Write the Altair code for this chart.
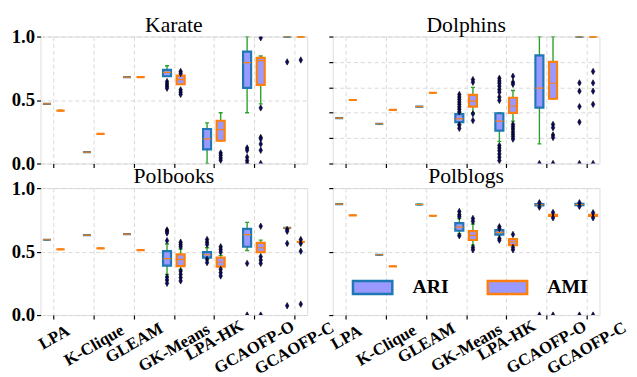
import altair as alt
import pandas as pd

METHODS = ["LPA", "K-Clique", "GLEAM", "GK-Means", "LPA-HK", "GCAOFP-O", "GCAOFP-C"]
METRICS = ["ARI", "AMI"]
DATASETS = ["Karate", "Dolphins", "Polbooks", "Polblogs"]

# box statistics per method: (whisker_low, q1, median, q3, whisker_high)
KARATE_ARI = [(0.47, 0.47, 0.47, 0.47, 0.47), (0.09, 0.09, 0.09, 0.09, 0.09),
              (0.68, 0.68, 0.68, 0.68, 0.68), (0.687, 0.687, 0.718, 0.738, 0.77),
              (0.0, 0.111, 0.194, 0.272, 0.32), (0.40, 0.596, 0.795, 0.881, 1.0),
              (1.0, 1.0, 1.0, 1.0, 1.0)]
KARATE_AMI = [(0.417, 0.417, 0.417, 0.417, 0.417), (0.233, 0.233, 0.233, 0.233, 0.233),
              (0.68, 0.68, 0.68, 0.68, 0.68), (0.624, 0.624, 0.66, 0.692, 0.692),
              (0.179, 0.179, 0.267, 0.337, 0.40), (0.47, 0.619, 0.81, 0.832, 0.847),
              (1.0, 1.0, 1.0, 1.0, 1.0)]
KARATE_ARI_OUT = [[], [], [], [0.645, 0.627, 0.609, 0.593], [], [0.122, 0.104, 0.049, 0.023, 0.0], [0.80]]
KARATE_AMI_OUT = [[], [], [], [0.725, 0.71, 0.58, 0.562, 0.544], [0.083, 0.065, 0.044, 0.026],
                  [0.99, 0.438, 0.205, 0.194, 0.153, 0.104, 0.0], [0.815]]

DOLPHINS_ARI = [(0.357, 0.357, 0.357, 0.357, 0.357), (0.313, 0.313, 0.313, 0.313, 0.313),
                (0.448, 0.448, 0.448, 0.448, 0.448), (0.31, 0.326, 0.352, 0.389, 0.40),
                (0.174, 0.259, 0.334, 0.396, 0.40), (0.155, 0.44, 0.593, 0.852, 1.0),
                (1.0, 1.0, 1.0, 1.0, 1.0)]
DOLPHINS_AMI = [(0.50, 0.50, 0.50, 0.50, 0.50), (0.422, 0.422, 0.422, 0.422, 0.422),
                (0.557, 0.557, 0.557, 0.557, 0.557), (0.40, 0.448, 0.492, 0.541, 0.60),
                (0.334, 0.399, 0.453, 0.518, 0.575), (0.51, 0.51, 0.632, 0.80, 1.0),
                (1.0, 1.0, 1.0, 1.0, 1.0)]
DOLPHINS_ARI_OUT = [[], [], [], [0.544, 0.523, 0.505, 0.484, 0.466, 0.446, 0.427, 0.407, 0.303, 0.277],
                    [0.671, 0.65, 0.632, 0.609, 0.583, 0.562, 0.523, 0.497, 0.142, 0.122, 0.101, 0.075, 0.049, 0.023],
                    [0.0], [0.635, 0.57, 0.448, 0.326, 0.0]]
DOLPHINS_AMI_OUT = [[], [], [], [0.661, 0.64, 0.391, 0.339],
                    [0.687, 0.64, 0.624, 0.308, 0.29, 0.272, 0.251, 0.231, 0.212, 0.192],
                    [0.308, 0.282, 0.225, 0.205, 0.0], [0.725, 0.635, 0.57, 0.466, 0.0]]

POLBOOKS_ARI = [(0.593, 0.593, 0.593, 0.593, 0.593), (0.629, 0.629, 0.629, 0.629, 0.629),
                (0.637, 0.637, 0.637, 0.637, 0.637), (0.32, 0.39, 0.444, 0.503, 0.56),
                (0.452, 0.452, 0.475, 0.496, 0.53), (0.509, 0.538, 0.634, 0.679, 0.73),
                (0.687, 0.687, 0.687, 0.687, 0.687)]
POLBOOKS_AMI = [(0.517, 0.517, 0.517, 0.517, 0.517), (0.525, 0.525, 0.525, 0.525, 0.525),
                (0.512, 0.512, 0.512, 0.512, 0.512), (0.36, 0.386, 0.439, 0.478, 0.52),
                (0.381, 0.381, 0.418, 0.452, 0.47), (0.496, 0.496, 0.53, 0.569, 0.59),
                (0.577, 0.577, 0.577, 0.577, 0.577)]
POLBOOKS_ARI_OUT = [[], [], [], [0.67, 0.66, 0.646, 0.586, 0.30, 0.276, 0.25],
                    [0.595, 0.574, 0.556, 0.438, 0.413], [0.407, 0.0], [0.674, 0.66, 0.564, 0.073]]
POLBOOKS_AMI_OUT = [[], [], [], [0.574, 0.556, 0.538, 0.347, 0.321, 0.295, 0.269],
                    [0.538, 0.517, 0.496, 0.36, 0.334, 0.308], [0.70, 0.46, 0.433, 0.407, 0.0],
                    [0.595, 0.564, 0.503, 0.086]]

POLBLOGS_ARI = [(0.874, 0.874, 0.874, 0.874, 0.874), (0.475, 0.475, 0.475, 0.475, 0.475),
                (0.871, 0.871, 0.871, 0.871, 0.871), (0.64, 0.664, 0.693, 0.724, 0.76),
                (0.633, 0.633, 0.651, 0.669, 0.669), (0.864, 0.864, 0.869, 0.874, 0.874),
                (0.866, 0.866, 0.871, 0.876, 0.876)]
POLBLOGS_AMI = [(0.785, 0.785, 0.785, 0.785, 0.785), (0.383, 0.383, 0.383, 0.383, 0.383),
                (0.782, 0.782, 0.782, 0.782, 0.782), (0.551, 0.591, 0.627, 0.661, 0.717),
                (0.551, 0.551, 0.577, 0.598, 0.598), (0.78, 0.78, 0.785, 0.79, 0.79),
                (0.78, 0.78, 0.785, 0.79, 0.79)]
POLBLOGS_ARI_OUT = [[], [], [], [0.816, 0.79, 0.775, 0.625], [0.696, 0.682, 0.604, 0.59],
                    [0.885, 0.85, 0.0], [0.885, 0.856, 0.0]]
POLBLOGS_AMI_OUT = [[], [], [], [0.761, 0.738, 0.533, 0.514], [0.635, 0.533, 0.514],
                    [0.808, 0.766, 0.0], [0.806, 0.766, 0.0]]

STATS = {
    "Karate": (KARATE_ARI, KARATE_AMI, KARATE_ARI_OUT, KARATE_AMI_OUT),
    "Dolphins": (DOLPHINS_ARI, DOLPHINS_AMI, DOLPHINS_ARI_OUT, DOLPHINS_AMI_OUT),
    "Polbooks": (POLBOOKS_ARI, POLBOOKS_AMI, POLBOOKS_ARI_OUT, POLBOOKS_AMI_OUT),
    "Polblogs": (POLBLOGS_ARI, POLBLOGS_AMI, POLBLOGS_ARI_OUT, POLBLOGS_AMI_OUT),
}

# ---------------- styling ----------------
FONT = "'Liberation Serif', 'Times New Roman', Times, serif"
BLUE = "#1f77b4"
ORANGE = "#ff7f0e"
GREEN = "#2ca02c"
FILL = "#9999ff"
NAVY = "#0a0a6e"
OFFSET = {"ARI": -0.17, "AMI": 0.17}
HALF_BOX = 0.1
HALF_CAP = 0.05
LABEL_PAD = [18.5, 26.5, 24, 29, 21.5, 28.5, 29.5]
DIAMOND = "M0,-1L0.55,0L0,1L-0.55,0Z"
LEGEND_SYMBOL = "M-1,-0.33H1V0.33H-1Z"


def frames(name):
    ari, ami, ari_out, ami_out = STATS[name]
    rows, orows = [], []
    for metric, stats, outs in (("ARI", ari, ari_out), ("AMI", ami, ami_out)):
        for i, meth in enumerate(METHODS):
            lo, q1, med, q3, hi = stats[i]
            pos = i + OFFSET[metric]
            rows.append(dict(method=meth, metric=metric, pos=pos,
                             xl=pos - HALF_BOX, xr=pos + HALF_BOX,
                             cl=pos - HALF_CAP, cr=pos + HALF_CAP,
                             lo=lo, q1=q1, med=med, q3=q3, hi=hi))
            for v in outs[i]:
                orows.append(dict(method=meth, metric=metric, pos=pos, value=v))
    return pd.DataFrame(rows), pd.DataFrame(orows)


label_expr = "[" + ",".join("'%s'" % m for m in METHODS) + "][datum.value]"
pad_cond = {"condition": [{"test": "datum.value == %d" % i, "value": p}
                          for i, p in enumerate(LABEL_PAD)], "value": 18}

legend = alt.Legend(title=None, orient="none", legendX=316, legendY=233, direction="horizontal",
                    symbolType=LEGEND_SYMBOL, symbolSize=1600, symbolStrokeWidth=2.5,
                    symbolFillColor=FILL, labelFont=FONT, labelFontWeight="bold",
                    labelFontSize=20, labelColor="black", labelOffset=19, columnPadding=34,
                    padding=0)


def panel(name, yticks, ylabels, xlabels):
    box_df, out_df = frames(name)
    xscale = alt.Scale(domain=[-0.33, 6.33], nice=False, zero=False)
    yscale = alt.Scale(domain=[0, 1], nice=False, zero=False)
    xaxis_kw = dict(values=list(range(7)), grid=True, domain=False, tickSize=4,
                    tickColor="black", tickWidth=1.2, gridColor="#d4d4d4",
                    gridDash=[4, 3], gridWidth=0.9, title=None)
    if xlabels:
        xaxis = alt.Axis(labelExpr=label_expr, labelAngle=330, labelAlign="center",
                         labelBaseline="middle", labelPadding=pad_cond,
                         labelFont=FONT, labelFontWeight="bold", labelFontSize=17,
                         labelColor="black", labelOverlap=False, labelFlush=False,
                         labelBound=False, **xaxis_kw)
    else:
        xaxis = alt.Axis(labels=False, **xaxis_kw)
    # right-hand panels keep (invisible) labels so every panel title sits alike
    yaxis = alt.Axis(values=yticks, grid=True, domain=False, tickSize=4,
                     tickColor="black", tickWidth=1.2, gridColor="#d4d4d4",
                     gridDash=[4, 3], gridWidth=0.9, title=None,
                     format=".1f", labelFont=FONT, labelFontWeight="bold",
                     labelFontSize=19, labelColor="black", labelPadding=2,
                     labelOpacity=1 if ylabels else 0)

    def X(f):
        return alt.X(f, type="quantitative", scale=xscale, axis=xaxis, title=None)

    def Y(f):
        return alt.Y(f, type="quantitative", scale=yscale, axis=yaxis, title=None)

    base = alt.Chart(box_df)
    whisk_lo = base.mark_rule(color=GREEN, strokeWidth=1.4, clip=True).encode(x=X("pos"), y=Y("lo"), y2="q1")
    whisk_hi = base.mark_rule(color=GREEN, strokeWidth=1.4, clip=True).encode(x=X("pos"), y=Y("q3"), y2="hi")
    cap_lo = base.mark_rule(color=GREEN, strokeWidth=1.4, clip=True).encode(x=X("cl"), x2="cr", y=Y("lo"))
    cap_hi = base.mark_rule(color=GREEN, strokeWidth=1.4, clip=True).encode(x=X("cl"), x2="cr", y=Y("hi"))
    box = base.mark_rect(fill=FILL, strokeWidth=2.2, clip=True).encode(
        x=X("xl"), x2="xr", y=Y("q1"), y2="q3",
        stroke=alt.Stroke("metric:N", scale=alt.Scale(domain=METRICS, range=[BLUE, ORANGE]),
                          legend=legend))
    med = base.mark_rule(color=ORANGE, strokeWidth=1.2, clip=True).encode(x=X("xl"), x2="xr", y=Y("med"))
    outl = alt.Chart(out_df).mark_point(shape=DIAMOND, filled=True, fill=NAVY, stroke="black",
                                        strokeWidth=0.6, size=42, opacity=1, clip=True).encode(
        x=X("pos"), y=Y("value"))
    return alt.layer(whisk_lo, whisk_hi, cap_lo, cap_hi, box, med, outl).properties(
        width=271, height=129,
        title=alt.TitleParams(name, font=FONT, fontSize=22, fontWeight="normal",
                              color="black", offset=-9))


p1 = panel("Karate", [0, 0.5, 1.0], True, False)
p2 = panel("Dolphins", [0, 0.2, 0.4, 0.6, 0.8, 1.0], False, False)
p3 = panel("Polbooks", [0, 0.5, 1.0], True, True)
p4 = panel("Polblogs", [0, 0.5, 1.0], False, True)

chart = alt.concat(p1, p2, p3, p4, columns=2, spacing={"row": 25, "column": 26},
                   bounds="flush").properties(
    padding={"left": 2, "top": 2, "right": 0, "bottom": 0}
).configure_view(stroke="black", strokeWidth=1.5).configure(background="white")

chart.save("out.html", embed_options={"renderer": "svg", "actions": False})
